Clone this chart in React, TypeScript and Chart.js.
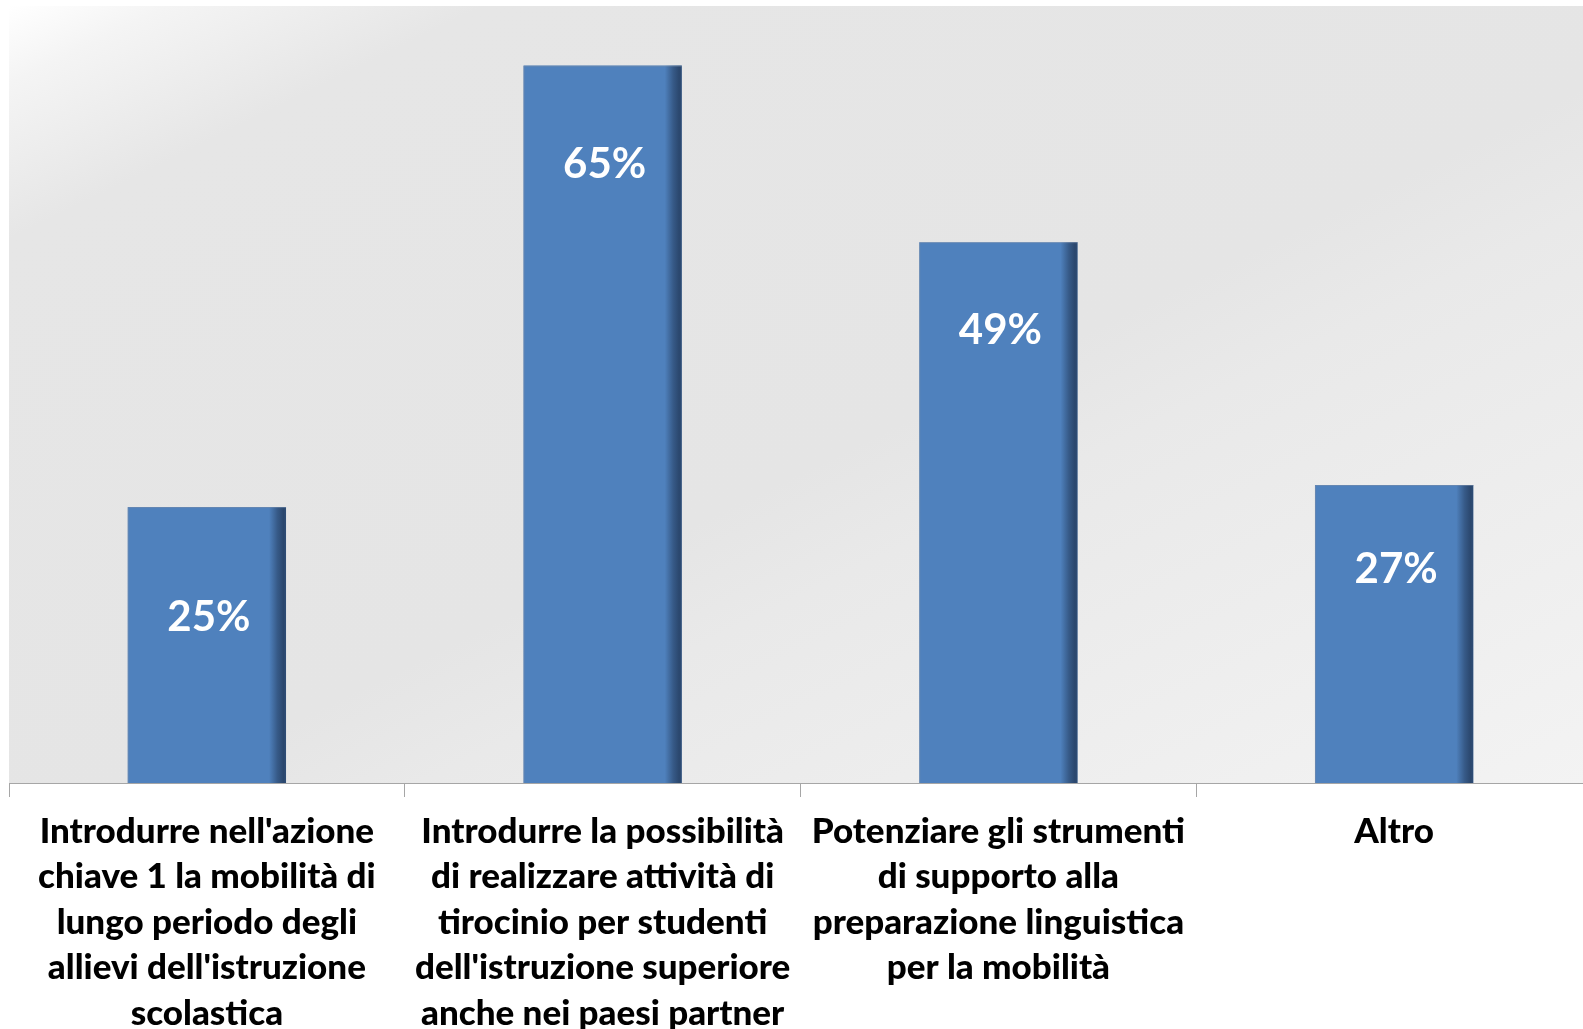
import React, { useEffect, useRef } from "react";
import { Chart, registerables } from "chart.js";

Chart.register(...registerables);

const categories: string[][] = [
  ["Introdurre nell'azione", "chiave 1 la mobilità di", "lungo periodo degli", "allievi dell'istruzione", "scolastica"],
  ["Introdurre la possibilità", "di realizzare attività di", "tirocinio per studenti", "dell'istruzione superiore", "anche nei paesi partner"],
  ["Potenziare gli strumenti", "di supporto alla", "preparazione linguistica", "per la mobilità"],
  ["Altro"],
];
const values: number[] = [25, 65, 49, 27];
const valueLabels: string[] = ["25%", "65%", "49%", "27%"];

const FONT = "Lato, 'Open Sans', 'DejaVu Sans', sans-serif";
const BAR_COLOR = "#4f81bd";
const LABEL_OFFSETS = [110, 99, 88, 84];

const backgroundPlugin = {
  id: "plotBackground",
  beforeDraw(chart: any) {
    const { ctx, chartArea, width, height } = chart;
    ctx.save();
    ctx.fillStyle = "#ffffff";
    ctx.fillRect(0, 0, width, height);
    const w = chartArea.right - chartArea.left;
    const h = chartArea.bottom - chartArea.top;
    const len = Math.sqrt(w * w + h * h);
    const L = (2 * w * h) / len;
    const dx = (h / len) * L;
    const dy = (w / len) * L;
    const g = ctx.createLinearGradient(chartArea.left, chartArea.top, chartArea.left + dx, chartArea.top + dy);
    g.addColorStop(0, "#ffffff");
    g.addColorStop(0.05, "#f4f4f4");
    g.addColorStop(0.15, "#e6e6e6");
    g.addColorStop(0.55, "#e5e5e5");
    g.addColorStop(0.63, "#e9e9e9");
    g.addColorStop(1, "#f3f3f3");
    ctx.fillStyle = g;
    ctx.fillRect(chartArea.left, chartArea.top, w, h);
    ctx.restore();
  },
};

const barDecorPlugin = {
  id: "barDecor",
  afterDatasetsDraw(chart: any) {
    const { ctx } = chart;
    const meta = chart.getDatasetMeta(0);
    ctx.save();
    meta.data.forEach((el: any, i: number) => {
      const p = el.getProps(["x", "y", "base", "width"], true);
      const right = p.x + p.width / 2;
      const left = p.x - p.width / 2;
      const sw = 17;
      const g = ctx.createLinearGradient(right - sw, 0, right, 0);
      g.addColorStop(0, "rgba(20,35,60,0)");
      g.addColorStop(0.5, "rgba(20,35,60,0.42)");
      g.addColorStop(0.85, "rgba(20,35,60,0.62)");
      g.addColorStop(1, "rgba(20,35,60,0.55)");
      ctx.fillStyle = g;
      ctx.fillRect(right - sw, p.y, sw, p.base - p.y);
      ctx.strokeStyle = "rgba(120,140,170,0.55)";
      ctx.lineWidth = 1;
      ctx.beginPath();
      ctx.moveTo(left + 0.5, p.base);
      ctx.lineTo(left + 0.5, p.y + 0.5);
      ctx.lineTo(right, p.y + 0.5);
      ctx.stroke();

      ctx.fillStyle = "#ffffff";
      ctx.font = `bold 42px ${FONT}`;
      ctx.textAlign = "center";
      ctx.textBaseline = "middle";
      ctx.fillText(valueLabels[i], p.x + 2, p.y + LABEL_OFFSETS[i]);
    });
    ctx.restore();
  },
};

export default function App() {
  const canvasRef = useRef<HTMLCanvasElement | null>(null);

  useEffect(() => {
    document.body.style.margin = "0";
    const canvas = canvasRef.current;
    if (!canvas) return;
    const chart = new Chart(canvas, {
      type: "bar",
      data: {
        labels: categories,
        datasets: [
          {
            data: values,
            backgroundColor: BAR_COLOR,
            borderWidth: 0,
            barPercentage: 0.4,
            categoryPercentage: 1,
          },
        ],
      },
      options: {
        animation: false,
        responsive: false,
        maintainAspectRatio: false,
        devicePixelRatio: 1,
        layout: { padding: { left: 9, right: 9, top: 6, bottom: 0 } },
        plugins: {
          legend: { display: false },
          tooltip: { enabled: false },
          title: { display: false },
        },
        scales: {
          x: {
            type: "category",
            offset: true,
            grid: {
              offset: true,
              drawOnChartArea: false,
              drawTicks: true,
              tickLength: 14,
              color: "#a6a6a6",
              lineWidth: 1,
            },
            border: { display: true, color: "#a6a6a6", width: 1 },
            ticks: {
              autoSkip: false,
              maxRotation: 0,
              minRotation: 0,
              padding: 12,
              color: "#000000",
              font: { family: FONT, size: 35, weight: "900" as any, lineHeight: "45.4px" as any },
            },
            afterFit(scale: any) {
              scale.height = 246;
            },
          },
          y: {
            display: false,
            min: 0,
            max: 70.4,
          },
        },
      },
      plugins: [backgroundPlugin, barDecorPlugin],
    });
    return () => chart.destroy();
  }, []);

  return (
    <div
      style={{
        position: "fixed",
        left: 0,
        top: 0,
        width: 1583,
        height: 1029,
        overflow: "hidden",
        background: "#ffffff",
      }}
    >
      <canvas ref={canvasRef} width={1601} height={1029} style={{ width: 1601, height: 1029, display: "block" }} />
    </div>
  );
}
